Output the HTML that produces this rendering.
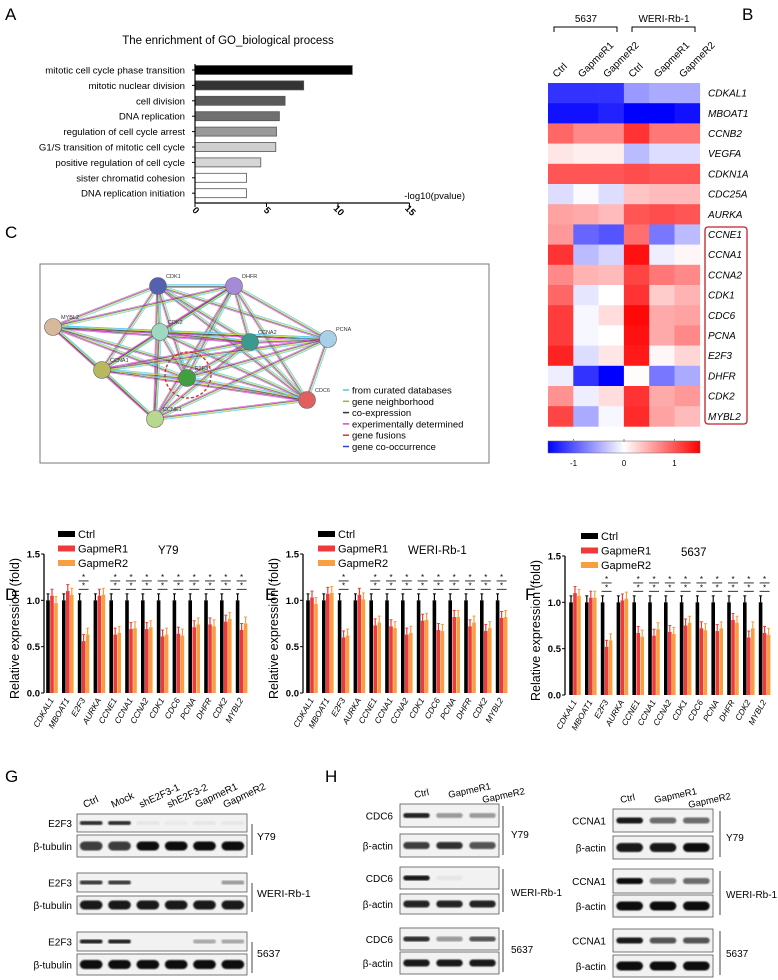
<!DOCTYPE html>
<html><head><meta charset="utf-8"><style>
body{margin:0;background:#fff;}
svg{display:block;font-family:"Liberation Sans",Arial,sans-serif;}
</style></head><body>
<svg id="fig" width="778" height="980" viewBox="0 0 778 980">
<rect width="778" height="980" fill="#fff"/>
<g font-size="17">
<text x="5" y="20">A</text>
<text x="742" y="20">B</text>
<text x="5" y="238">C</text>
<text x="5" y="600">D</text>
<text x="265" y="600">E</text>
<text x="525" y="600">F</text>
<text x="5" y="782">G</text>
<text x="325" y="782">H</text>
</g>
<g id="pA"></g>
<g id="pB"></g>
<g id="pC"></g>
<g id="pD"></g>
<g id="pE"></g>
<g id="pF"></g>
<g id="pG"></g>
<g id="pH"></g>
</svg>
<script>
// ---- Panel A data ----
const goTerms = ["mitotic cell cycle phase transition","mitotic nuclear division","cell division","DNA replication","regulation of cell cycle arrest","G1/S transition of mitotic cell cycle","positive regulation of cell cycle","sister chromatid cohesion","DNA replication initiation"];
const goValues = [11.0,7.6,6.3,5.9,5.7,5.65,4.6,3.6,3.6];
const goTicks = [0,5,10,15];
// ---- Panel B data ----
const hmCols = ["Ctrl","GapmeR1","GapmeR2","Ctrl","GapmeR1","GapmeR2"];
const hmGenes = ["CDKAL1","MBOAT1","CCNB2","VEGFA","CDKN1A","CDC25A","AURKA","CCNE1","CCNA1","CCNA2","CDK1","CDC6","PCNA","E2F3","DHFR","CDK2","MYBL2"];
const hmValues = [
[-1.2,-1.2,-1.2,-0.6,-0.5,-0.5],
[-1.4,-1.4,-1.3,-1.5,-1.5,-1.4],
[0.9,0.7,0.7,1.2,0.8,0.8],
[0.15,0.1,0.1,-0.4,-0.2,-0.2],
[1.0,1.0,1.0,1.05,1.0,1.0],
[-0.2,-0.03,-0.2,0.35,0.4,0.4],
[0.55,0.5,0.4,1.0,1.05,1.0],
[0.6,-0.9,-1.0,0.85,-0.8,-0.4],
[1.2,-0.4,-0.25,1.4,-0.1,0.05],
[0.7,0.45,0.4,1.1,0.8,0.7],
[0.9,-0.15,0,1.2,0.3,0.45],
[1.15,-0.05,0.2,1.45,0.5,0.55],
[1.15,-0.05,0,1.4,0.5,0.7],
[1.3,-0.2,0.15,1.35,0.05,0.25],
[-0.1,-1.2,-1.5,0.02,-0.8,-0.5],
[0.65,-0.1,0.2,1.2,0.5,0.6],
[1.1,-0.5,-0.05,1.25,0.55,0.4]];
const cbTicks = [-1,0,1];
// ---- Bar chart data ----
const qGenes = ["CDKAL1","MBOAT1","E2F3","AURKA","CCNE1","CCNA1","CCNA2","CDK1","CDC6","PCNA","DHFR","CDK2","MYBL2"];
const yTicks = [0.0,0.5,1.0,1.5];
const sigGroups = [2,4,5,6,7,8,9,10,11,12];
const dCtrl = [1,1,1,1,1,1,1,1,1,1,1,1,1];
const dG1 = [1.05,1.10,0.56,1.05,0.63,0.69,0.69,0.61,0.64,0.71,0.74,0.77,0.68];
const dG2 = [0.97,1.06,0.63,1.06,0.65,0.70,0.71,0.63,0.62,0.74,0.72,0.80,0.75];
const eCtrl = [1,1,1,1,1,1,1,1,1,1,1,1,1];
const eG1 = [1.03,1.07,0.60,1.06,0.73,0.72,0.63,0.78,0.68,0.82,0.72,0.67,0.81];
const eG2 = [0.96,1.08,0.62,1.01,0.76,0.70,0.65,0.79,0.67,0.82,0.76,0.70,0.82];
const fCtrl = [1,1,1,1,1,1,1,1,1,1,1,1,1];
const fG1 = [1.10,1.05,0.52,1.02,0.67,0.64,0.68,0.75,0.72,0.69,0.81,0.62,0.67];
const fG2 = [1.07,1.05,0.59,1.04,0.63,0.71,0.66,0.78,0.70,0.72,0.78,0.72,0.65];

const NS="http://www.w3.org/2000/svg";
function mk(p,tag,at,txt){const e=document.createElementNS(NS,tag);for(const k in at)e.setAttribute(k,at[k]);if(txt!=null)e.textContent=txt;p.appendChild(e);return e;}

// ---- Panel A ----
(function(){
const g=document.getElementById('pA');
const x0=195,pxu=14.3,yTop=64;
const xs=v=>x0+v*pxu;
const fills=["#000","#333","#5a5a5a","#707070","#9a9a9a","#cfcfcf","#d6d6d6","#fff","#fff"];
let t=mk(g,'text',{x:228,y:44,'font-size':11.5,'text-anchor':'middle'},'The enrichment of GO_biological process');


goTerms.forEach((term,i)=>{
 const cy=70+i*15.4;
 const r=mk(g,'rect',{x:x0,y:cy-4.5,width:xs(goValues[i])-x0,height:9,fill:fills[i],stroke:'#555','stroke-width':0.8});
 
 
 mk(g,'line',{x1:x0-3,x2:x0,y1:cy,y2:cy,stroke:'#000'});
 const l=mk(g,'text',{x:185,y:cy+3.5,'font-size':9.6,'text-anchor':'end'},term);
 
 
});
mk(g,'line',{x1:x0,x2:x0,y1:yTop,y2:203,stroke:'#000','stroke-width':1.2});
mk(g,'line',{x1:x0,x2:xs(15),y1:203,y2:203,stroke:'#000','stroke-width':1.2});
goTicks.forEach(v=>{
 mk(g,'line',{x1:xs(v),x2:xs(v),y1:203,y2:207,stroke:'#000'});
 const tt=mk(g,'text',{x:xs(v)-2,y:214,'font-size':9.5,'font-weight':'bold','text-anchor':'middle',transform:`rotate(45 ${xs(v)} 214)`},String(v));
 
 
});
const xt=mk(g,'text',{x:465,y:199,'font-size':9.5,'text-anchor':'end'},'-log10(pvalue)');


})();

// ---- Panel B ----
(function(){
const g=document.getElementById('pB');
const x0=548,y0=83,cw=25.3,rh=20.2;
function col(v){v=Math.max(-1.5,Math.min(1.5,v))/1.5;
 if(v>=0){const k=Math.round(255*(1-v));return `rgb(255,${k},${k})`;}
 const k=Math.round(255*(1+v));return `rgb(${k},${k},255)`;}
hmValues.forEach((row,i)=>row.forEach((v,j)=>{
 const r=mk(g,'rect',{x:x0+j*cw,y:y0+i*rh,width:cw+0.3,height:rh+0.3,fill:col(v)});
 
 
}));
hmGenes.forEach((gn,i)=>{
 const t=mk(g,'text',{x:708,y:y0+i*rh+rh/2+3.5,'font-size':10,'font-style':'italic'},gn);
 
 
});
hmCols.forEach((c,j)=>{
 const cx=x0+j*cw+cw/2;
 const t=mk(g,'text',{x:cx-4,y:78,'font-size':10,transform:`rotate(-45 ${cx-4} 78)`},c);
 
 
});
mk(g,'path',{d:'M554,32 V27 H617 V32',fill:'none',stroke:'#000'});
mk(g,'path',{d:'M632,32 V27 H695 V32',fill:'none',stroke:'#000'});
let t=mk(g,'text',{x:586,y:22,'font-size':10,'text-anchor':'middle'},'5637');

t=mk(g,'text',{x:664,y:22,'font-size':10,'text-anchor':'middle'},'WERI-Rb-1');

const box=mk(g,'rect',{x:705,y:227,width:42,height:197,rx:3,fill:'none',stroke:'#c0202a','stroke-width':1.3});


const defs=mk(g,'defs',{});
const lg=mk(defs,'linearGradient',{id:'cbg'});
mk(lg,'stop',{offset:'0','stop-color':'#0000ff'});mk(lg,'stop',{offset:'0.5','stop-color':'#fff'});mk(lg,'stop',{offset:'1','stop-color':'#ff0000'});
const cb=mk(g,'rect',{x:548,y:441,width:152,height:12,fill:'url(#cbg)',stroke:'#666','stroke-width':0.5});


cbTicks.forEach(v=>{const x=624+v*50.5;
 mk(g,'line',{x1:x,x2:x,y1:439,y2:442,stroke:'#888'});
 const tt=mk(g,'text',{x:x,y:466,'font-size':8,'text-anchor':'middle'},String(v));
 
 });
})();

// ---- Panel C ----
(function(){
const g=document.getElementById('pC');
const fr=mk(g,'rect',{x:40,y:264,width:449,height:199,fill:'#fff',stroke:'#777','stroke-width':1});


const nodes=[["CDK1",158,286,"#5560b0"],["DHFR",234,286,"#a58ad8"],["MYBL2",53,327,"#d8b89a"],["CDK2",160,332,"#9fd8c0"],["CCNA2",250,342,"#3a9a90"],["PCNA",328,339,"#a8d0e8"],["CCNA1",102,370,"#b8b860"],["E2F3",187,378,"#40a040"],["CDC6",307,400,"#e06060"],["CCNE1",155,419,"#b8d890"]];
const ecols=["#4cc8ee","#c8d830","#444","#e040e0"];
for(let i=0;i<nodes.length;i++)for(let j=i+1;j<nodes.length;j++){
 const a=nodes[i],b=nodes[j];const dx=b[1]-a[1],dy=b[2]-a[2],L=Math.hypot(dx,dy);const nx=-dy/L,ny=dx/L;
 ecols.forEach((c,k)=>{const o=(k-1.5)*1;mk(g,'line',{x1:a[1]+nx*o,y1:a[2]+ny*o,x2:b[1]+nx*o,y2:b[2]+ny*o,stroke:c,'stroke-width':0.7,opacity:0.85});});
}
const dc=mk(g,'circle',{cx:188,cy:375,r:23,fill:'none',stroke:'#e02020','stroke-width':1.3,'stroke-dasharray':'3,2'});


nodes.forEach(n=>{
 const c=mk(g,'circle',{cx:n[1],cy:n[2],r:8.5,fill:n[3],stroke:'#666','stroke-width':0.6});
 
 
 const t=mk(g,'text',{x:n[1]+8,y:n[2]-8,'font-size':5.5,fill:'#333'},n[0]);
 
 
});
const leg=[["from curated databases","#4cc8ee"],["gene neighborhood","#8cc030"],["co-expression","#333"],["experimentally determined","#e040e0"],["gene fusions","#e03030"],["gene co-occurrence","#3040d0"]];
leg.forEach((l,i)=>{const y=390+i*11.3;
 mk(g,'line',{x1:343,x2:349,y1:y,y2:y,stroke:l[1],'stroke-width':1.5});
 const t=mk(g,'text',{x:352,y:y+3.5,'font-size':9.5},l[0]);
 
 });
})();

// ---- Bar charts ----
function barChart(id,ax,yTopPx,yZero,x0,ctrl,g1,g2,cell,cellX,legX){
 const g=document.getElementById(id);
 const ys=v=>yZero-v*(yZero-yTopPx)/1.5;
 const gs=15.8,bw=3.6;
 const series=[[ctrl,"#000",0],[g1,"#f03a3a",4],[g2,"#f8a040",8]];
 const errs=[0.07,0.07,0.07];
 qGenes.forEach((gn,i)=>{
  series.forEach((s,k)=>{
   const x=x0+i*gs+s[2]-bw/2;const v=s[0][i];
   const b=mk(g,'rect',{x:x,y:ys(v),width:bw,height:yZero-ys(v),fill:s[1]});
   
   
   mk(g,'line',{x1:x+bw/2,x2:x+bw/2,y1:ys(v),y2:ys(v+errs[k]),stroke:s[1],'stroke-width':1.2});
   mk(g,'line',{x1:x+0.3,x2:x+bw-0.3,y1:ys(v+errs[k]),y2:ys(v+errs[k]),stroke:s[1],'stroke-width':1});
  });
  const lx=x0+i*gs+6;
  const t=mk(g,'text',{x:lx,y:yZero+7,'font-size':8.3,'font-style':'italic','text-anchor':'end',transform:`rotate(-60 ${lx} ${yZero+7})`},gn);
  
  
 });
 sigGroups.forEach(i=>{const cx=x0+i*gs+4;
  [1.22,1.13].forEach(v=>{
   mk(g,'line',{x1:cx-5,x2:cx+5,y1:ys(v)+1,y2:ys(v)+1,stroke:'#000','stroke-width':0.8});
   const s=mk(g,'text',{x:cx,y:ys(v),'font-size':8,'text-anchor':'middle'},'*');
   
   
  });});
 mk(g,'line',{x1:ax,x2:ax,y1:yTopPx,y2:yZero,stroke:'#000','stroke-width':1.3});
 yTicks.forEach(v=>{mk(g,'line',{x1:ax-3,x2:ax,y1:ys(v),y2:ys(v),stroke:'#000'});
  const t=mk(g,'text',{x:ax-4,y:ys(v)+3.5,'font-size':9.5,'font-weight':'bold','text-anchor':'end'},v.toFixed(1));
  
  });
 const yt=mk(g,'text',{x:0,y:0,'font-size':12.5,'text-anchor':'middle',transform:`translate(${ax-25},${(yTopPx+yZero)/2+5}) rotate(-90)`},'Relative  expression (fold)');
 
 
 [["Ctrl","#000"],["GapmeR1","#f03a3a"],["GapmeR2","#f8a040"]].forEach((l,i)=>{const y=yTopPx-20+i*14.5;
  mk(g,'rect',{x:legX,y:y-3,width:17,height:6,fill:l[1]});
  const t=mk(g,'text',{x:legX+20,y:y+4,'font-size':11},l[0]);
  
  });
 const c=mk(g,'text',{x:cellX,y:yTopPx,'font-size':11.5},cell);
 
 
}
barChart('pD',44,554,693,48,dCtrl,dG1,dG2,'Y79',158,58);
barChart('pE',303,554,693,308,eCtrl,eG1,eG2,'WERI-Rb-1',408,318);
barChart('pF',565,556,695,571,fCtrl,fG1,fG2,'5637',681,581);

// ---- Blots ----
function blot(g,x,y,w,h,lanes,ints,thick){
 const r=mk(g,'rect',{x:x,y:y,width:w,height:h,fill:'#f2f2f2',stroke:'#555','stroke-width':0.8});
 
 
 const lw=w/lanes;
 ints.forEach((v,i)=>{if(v<=0.02)return;
  const b=mk(g,'rect',{x:x+i*lw+lw*0.1,y:y+h/2-thick/2,width:lw*0.8,height:thick,rx:thick/2,fill:'#111','fill-opacity':v,filter:'url(#bl)'});
  
  
 });
}
const svg=document.getElementById('fig');
const dd=mk(svg,'defs',{});const fl=mk(dd,'filter',{id:'bl'});mk(fl,'feGaussianBlur',{stdDeviation:0.8});
function lbl(g,x,y,t,anchor,size,name){const e=mk(g,'text',{x:x,y:y,'font-size':size||10,'text-anchor':anchor||'end'},t);
 
 return e;}
(function(){
const g=document.getElementById('pG');
["Ctrl","Mock","shE2F3-1","shE2F3-2","GapmeR1","GapmeR2"].forEach((c,i)=>{const x=85+i*28,y=808;
 const t=mk(g,'text',{x:x,y:y,'font-size':10,transform:`rotate(-25 ${x} ${y})`},c);
 
 });
const sets=[[814,18,835,22,[0.85,0.85,0.05,0.03,0.05,0.05],[0.8,0.8,1,1,1,1],'Y79',840],[873,19,896,18,[0.8,0.8,0,0,0,0.4],[0.95,0.95,0.95,0.95,0.95,0.95],'WERI-Rb-1',897],[932,19,954,21,[0.9,0.9,0,0,0.3,0.35],[1,1,1,1,1,1],'5637',957]];
sets.forEach(s=>{
 blot(g,77,s[0],170,s[1],6,s[4],4);lbl(g,72,s[0]+s[1]/2+4,'E2F3');
 blot(g,77,s[2],170,s[3],6,s[5],9);lbl(g,72,s[2]+s[3]/2+4,'β-tubulin');
 mk(g,'line',{x1:252,x2:252,y1:s[0]+10,y2:s[2]+s[3]-2,stroke:'#444'});
 lbl(g,257,s[7],s[6],'start',10.5,'cell-line-label');
});
})();
(function(){
const g=document.getElementById('pH');
function lanes(x0,y0){["Ctrl","GapmeR1","GapmeR2"].forEach((c,i)=>{const x=x0+i*34,y=y0+(i==2?5:0);
 const t=mk(g,'text',{x:x,y:y,'font-size':9.5,transform:`rotate(-12 ${x} ${y})`},c);
 
 });}
lanes(415,798);lanes(621,803);
const L=[[804,23,834,23,[0.9,0.4,0.4],[0.8,0.85,0.7],'Y79',838],[867,22,894,20,[0.95,0.05,0],[0.9,0.9,0.9],'WERI-Rb-1',896],[928,22,952,22,[0.85,0.4,0.7],[0.95,0.95,0.95],'5637',953]];
L.forEach(s=>{
 blot(g,400,s[0],99,s[1],3,s[4],5);lbl(g,393,s[0]+s[1]/2+4,'CDC6');
 blot(g,400,s[2],99,s[3],3,s[5],7);lbl(g,393,s[2]+s[3]/2+4,'β-actin');
 mk(g,'line',{x1:503,x2:503,y1:s[0]+2,y2:s[2]+s[3]-2,stroke:'#444'});
 lbl(g,511,s[7],s[6],'start',10,'cell-line-label');
});
const R=[[809,23,836,23,[0.95,0.6,0.6],[0.95,0.95,1],'Y79',841],[869,24,895,22,[1,0.5,0.6],[1,1,1],'WERI-Rb-1',898],[929,23,955,22,[0.95,0.7,0.7],[1,1,1],'5637',957]];
R.forEach(s=>{
 blot(g,613,s[0],100,s[1],3,s[4],6);lbl(g,606,s[0]+s[1]/2+4,'CCNA1');
 blot(g,613,s[2],100,s[3],3,s[5],9);lbl(g,606,s[2]+s[3]/2+4,'β-actin');
 mk(g,'line',{x1:720,x2:720,y1:s[0]+2,y2:s[2]+s[3]-2,stroke:'#444'});
 lbl(g,726,s[7],s[6],'start',10,'cell-line-label');
});
})();
</script>
</body></html>
